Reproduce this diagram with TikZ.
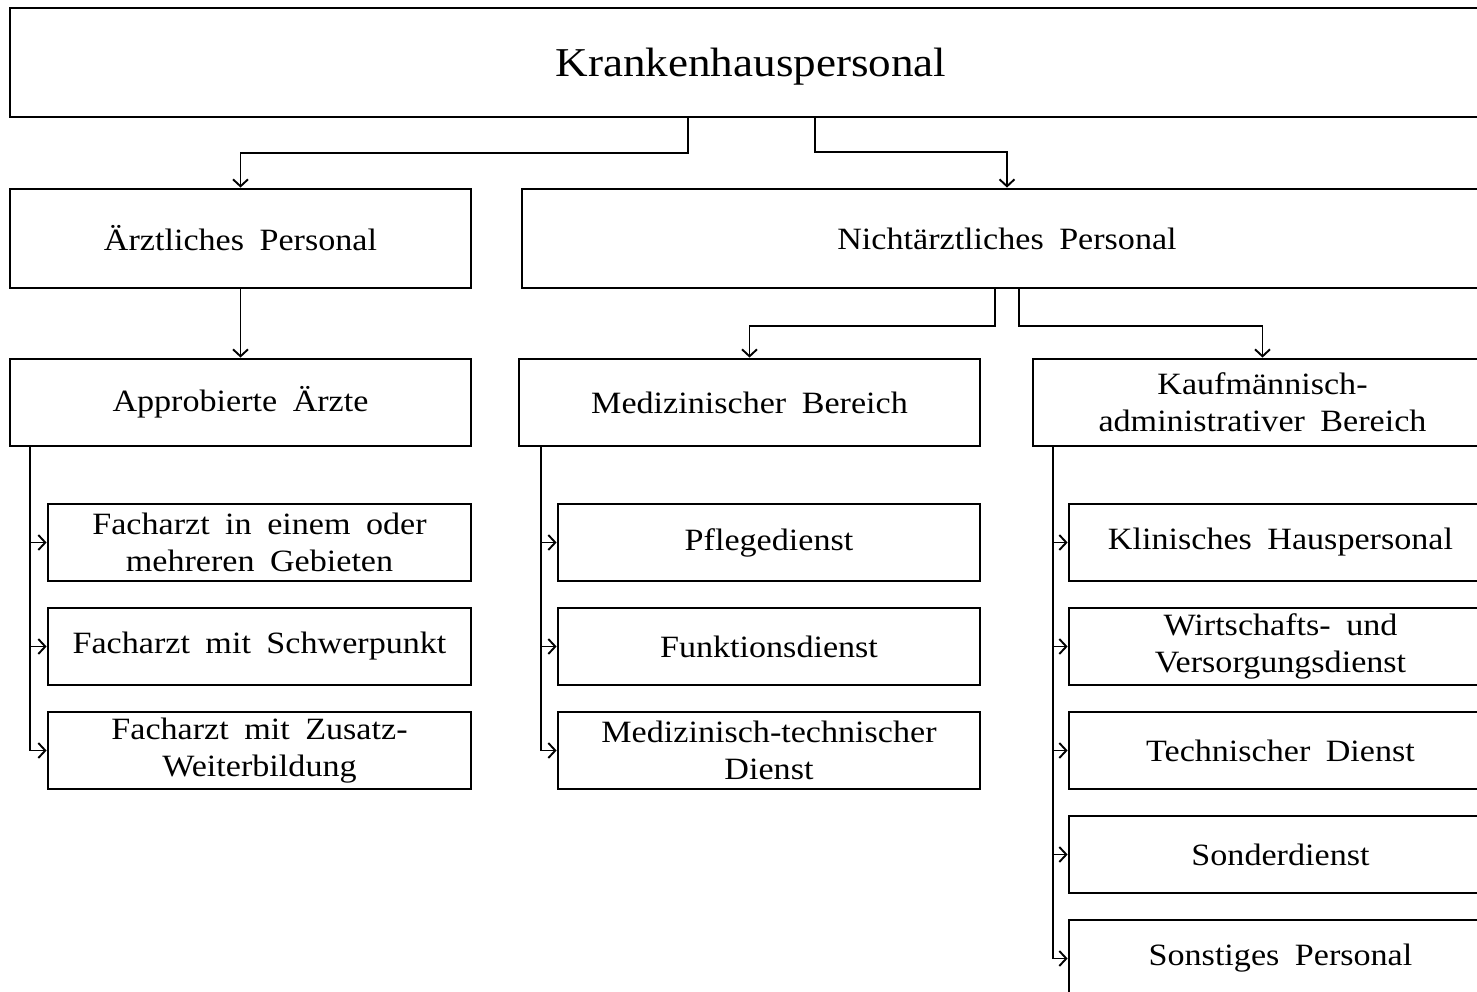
\documentclass[tikz,border=0pt]{standalone}
\usepackage{fontspec}
\setmainfont{Liberation Serif}[FakeStretch=1.1]
\usetikzlibrary{arrows.meta}
\newcommand\boxfont{\fontsize{31}{37}\selectfont}
\newcommand\wordgap{\spaceskip=0.5em plus 0.1em\relax}
\begin{document}
\begin{tikzpicture}[x=1pt,y=-1pt,
  box/.style={draw=black, line width=2.8pt, inner sep=0pt, align=center,
    font=\boxfont, execute at begin node=\wordgap},
  conn/.style={draw=black, line width=1.9pt, -{Straight Barb[length=7pt,width=15pt,line width=1.9pt]}}]
\useasboundingbox (0,0) rectangle (1477,992);
\clip (0,0) rectangle (1477,992);
\fill[white] (0,0) rectangle (1477,992);

% top level
\node[box, minimum width=1482, minimum height=109,
  font=\fontsize{41}{46}\selectfont] (top) at (751,62.5) {\raisebox{-4pt}[\height][\depth]{Krankenhauspersonal}};

% second level
\node[box, minimum width=461, minimum height=99] (aerzt) at (240.5,238.5) {Ärztliches Personal};
\node[box, minimum width=970, minimum height=99] (nicht) at (1007,238.5) {Nichtärztliches Personal};

% third level
\node[box, minimum width=461, minimum height=87] (appr) at (240.5,402.5) {Approbierte Ärzte};
\node[box, minimum width=461, minimum height=87] (med) at (749.5,402.5) {Medizinischer Bereich};
\node[box, minimum width=459, minimum height=87] (kauf) at (1262.5,402.5) {Kaufmännisch-\\administrativer Bereich};

% physicians
\node[box, minimum width=423, minimum height=77] (fa1) at (259.5,542.5) {Facharzt in einem oder\\mehreren Gebieten};
\node[box, minimum width=423, minimum height=77] (fa2) at (259.5,646.5) {Facharzt mit Schwerpunkt};
\node[box, minimum width=423, minimum height=77] (fa3) at (259.5,750.5) {Facharzt mit Zusatz-\\Weiterbildung};

% medical staff
\node[box, minimum width=422, minimum height=77] (m1) at (769,542.5) {Pflegedienst};
\node[box, minimum width=422, minimum height=77] (m2) at (769,646.5) {Funktionsdienst};
\node[box, minimum width=422, minimum height=77] (m3) at (769,750.5) {Medizinisch-technischer\\Dienst};

% administrative staff
\node[box, minimum width=423, minimum height=77] (k1) at (1280.5,542.5) {Klinisches Hauspersonal};
\node[box, minimum width=423, minimum height=77] (k2) at (1280.5,646.5) {Wirtschafts- und\\Versorgungsdienst};
\node[box, minimum width=423, minimum height=77] (k3) at (1280.5,750.5) {Technischer Dienst};
\node[box, minimum width=423, minimum height=77] (k4) at (1280.5,854.5) {Sonderdienst};
\node[box, minimum width=423, minimum height=77] (k5) at (1280.5,958.5) {Sonstiges Personal};

% branching points
\coordinate (tl) at (688,153);
\coordinate (tr) at (815,152);
\coordinate (nl) at (995,326);
\coordinate (nr) at (1019,326);
\coordinate (la) at (30,0);
\coordinate (ma) at (541,0);
\coordinate (ka) at (1053,0);

\draw[conn] (top.south -| tl) -- (tl) -| (aerzt.north);
\draw[conn] (top.south -| tr) -- (tr) -| (nicht.north);
\draw[conn] (aerzt.south) -- (appr.north);
\draw[conn] (nicht.south -| nl) -- (nl) -| (med.north);
\draw[conn] (nicht.south -| nr) -- (nr) -| (kauf.north);

\foreach \c in {fa1,fa2,fa3} \draw[conn] (appr.south -| la) |- (\c.west);
\foreach \c in {m1,m2,m3} \draw[conn] (med.south -| ma) |- (\c.west);
\foreach \c in {k1,k2,k3,k4,k5} \draw[conn] (kauf.south -| ka) |- (\c.west);
\end{tikzpicture}
\end{document}
